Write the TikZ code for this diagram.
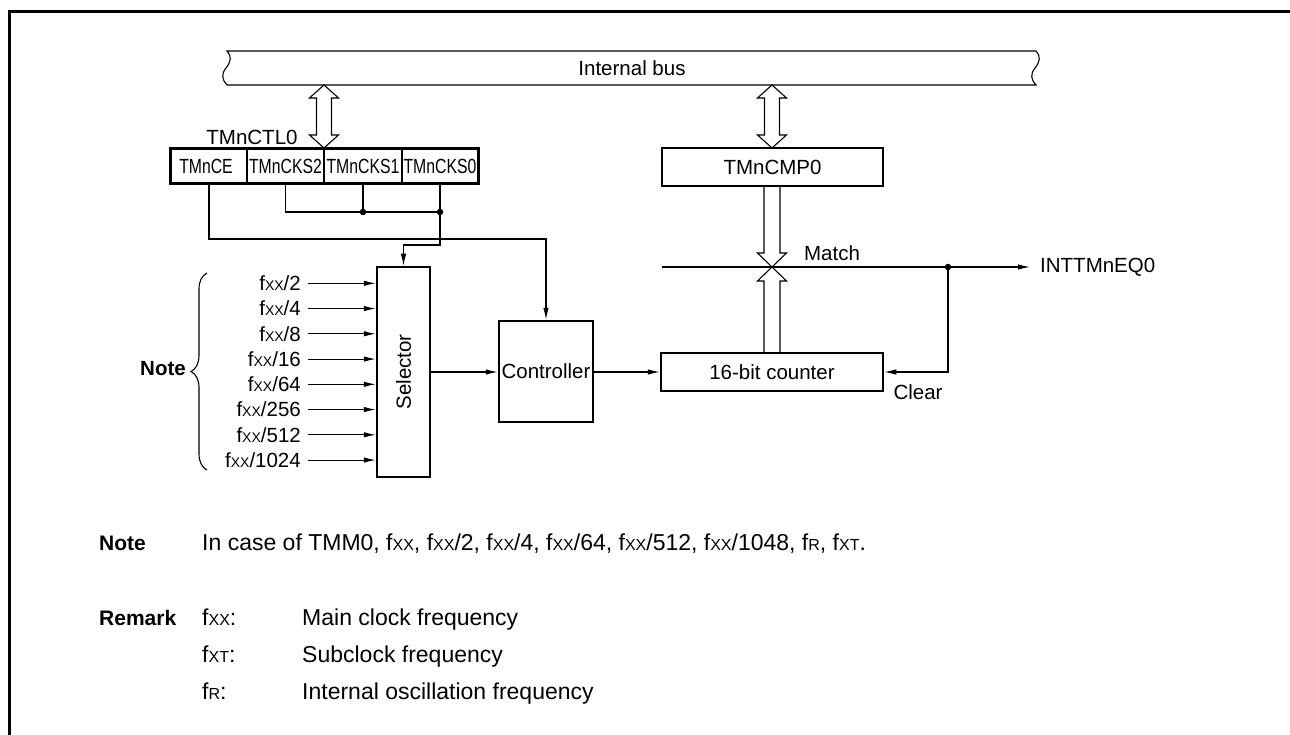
\documentclass[tikz,border=0pt]{standalone}
\usepackage{fontspec}
\setmainfont{Liberation Sans}
\usetikzlibrary{arrows.meta,decorations.pathreplacing,calc}
\newcommand\smc[1]{{\fontsize{14}{14}\selectfont #1}}
\newcommand\smb[1]{{\fontsize{16}{16}\selectfont #1}}
\newcommand\narrowtxt[1]{\scalebox{0.77}[1]{#1}}
\newcommand\dbarrow[3]{%
  \draw[hollow] (#1,#2) -- ({#1+14.5},{#2+13}) -- ({#1+7.5},{#2+13}) -- ({#1+7.5},{#3-13})
   -- ({#1+14.5},{#3-13}) -- (#1,#3) -- ({#1-14.5},{#3-13}) -- ({#1-7.5},{#3-13})
   -- ({#1-7.5},{#2+13}) -- ({#1-14.5},{#2+13}) -- cycle;}
\begin{document}
\begin{tikzpicture}[x=1pt,y=-1pt,
  every node/.style={font=\fontsize{20.5}{24}\selectfont, inner sep=0pt},
  wire/.style={line width=1.1pt},
  arr/.style={wire,-{Latex[length=12pt,width=5.5pt]}},
  blk/.style={draw,line width=2.5pt,rectangle,inner sep=0pt},
  cell/.style={draw,line width=1.1pt,rectangle,minimum height=34pt},
  dot/.style={circle,fill,inner sep=0pt,minimum size=6.5pt},
  hollow/.style={line width=1.1pt, fill=white, line join=miter},
  boldtxt/.style={font=\fontsize{20.5}{24}\selectfont\bfseries},
  notetxt/.style={anchor=base west,font=\fontsize{23}{27}\selectfont},
  notebold/.style={anchor=base west,font=\fontsize{21}{26}\selectfont\bfseries}]

\useasboundingbox (0,0) rectangle (1290,735);

% frame
\draw[line width=3pt] (1290,12) -- (9,12) -- (9,735);

% internal bus
\draw[wire] (227,51) -- (1036,51)
  .. controls (1041,56) and (1040,62) .. (1035,68)
  .. controls (1030,74) and (1031,80) .. (1036,85) -- (227,85)
  .. controls (222,80) and (221,74) .. (226,68)
  .. controls (231,62) and (232,56) .. (227,51) -- cycle;
\node (bus) at (632,68) {Internal bus};

% register TMnCTL0
\node (ctllab) at (252,137) {TMnCTL0};
\node[cell,minimum width=76pt] (ce) at (209,166) {};
\node (cetxt) at (206,166) {\narrowtxt{TMnCE}};
\node[cell,minimum width=77pt] (cks2) at (285.5,166) {\narrowtxt{TMnCKS2}};
\node[cell,minimum width=78pt] (cks1) at (363,166) {\narrowtxt{TMnCKS1}};
\node[cell,minimum width=76pt] (cks0) at (440,166) {\narrowtxt{TMnCKS0}};
\draw[line width=2.5pt] (ce.north west) rectangle (cks0.south east);

% compare register, counter, selector, controller
\node[blk,minimum width=221pt,minimum height=38pt] (cmp) at (772.5,167) {TMnCMP0};
\node[blk,minimum width=222pt,minimum height=38pt] (cnt) at (772,372) {16-bit counter};
\node[blk,minimum width=53pt,minimum height=210pt] (sel) at (403.5,372) {};
\node[rotate=90] (sellab) at (sel.center) {Selector};
\node[blk,minimum width=94pt,minimum height=101pt] (ctl) at (546,371.5) {Controller};

% bus arrows
\dbarrow{324}{85}{148}
\dbarrow{772}{85}{148}

% CE wiring to controller
\coordinate (ceturn) at (546,239);
\draw[arr] (ce.south) |- (ceturn) -- (ctl.north);

% CKS wiring to selector
\coordinate (d0) at (cks0.south |- 0,212);
\draw[wire] (cks2.south) |- (d0);
\draw[wire] (cks1.south) -- (cks1.south |- d0);
\node[dot] (dk1) at (cks1.south |- d0) {};
\node[dot] (dk0) at (d0) {};
\coordinate (ckturn) at (cks0.south |- 0,245);
\draw[arr] (cks0.south) -- (ckturn) -| (sel.north);

% clock inputs
\foreach \lab [count=\i from 0] in {2,4,8,16,64,256,512,1024} {
  \coordinate (in\i) at (308,{283.3+25.25*\i});
  \node[anchor=east] (lab\i) at (301,{283.3+25.25*\i}) {f\smc{XX}/\lab};
  \draw[arr] (in\i) -- (in\i -| sel.west);
}
\draw[wire,decorate,decoration={brace,amplitude=16pt}] (207,470) -- (207,273);
\node[anchor=east,boldtxt] (notelab) at (186,369) {Note};

% selector -> controller -> counter
\draw[arr] (sel.east |- 0,372) -- (ctl.west |- 0,372);
\draw[arr] (ctl.east |- cnt.west) -- (cnt.west);

% match line
\coordinate (mstart) at (662,267);
\node[anchor=west] (int) at (1040,267) {INTTMnEQ0};
\draw[arr,shorten >=10pt] (mstart) -- (int.west);
\node[dot] (md) at (948,267) {};
\draw[arr] (md.center) |- (cnt.east);
\node (matchlab) at (832,253) {Match};
\node (clearlab) at (918,392) {Clear};

% hollow arrows to the match point
\draw[hollow,fill=none] (764,186) -- (764,253) -- (757.5,253) -- (772,267) -- (786.5,253) -- (780,253) -- (780,186);
\draw[hollow,fill=none] (764,353) -- (764,281) -- (757.5,281) -- (772,267) -- (786.5,281) -- (780,281) -- (780,353);

% notes
\node[notebold] (n1) at (99,550) {Note};
\node[notetxt] (n1t) at (202,550) {In case of TMM0, f\smb{XX}, f\smb{XX}/2, f\smb{XX}/4, f\smb{XX}/64, f\smb{XX}/512, f\smb{XX}/1048, f\smb{R}, f\smb{XT}.};
\node[notebold] (r1) at (99,625) {Remark};
\node[notetxt] (r1a) at (202,625) {f\smb{XX}:};
\node[notetxt] (r1b) at (302,625) {Main clock frequency};
\node[notetxt] (r2a) at (202,662) {f\smb{XT}:};
\node[notetxt] (r2b) at (302,662) {Subclock frequency};
\node[notetxt] (r3a) at (202,699) {f\smb{R}:};
\node[notetxt] (r3b) at (302,699) {Internal oscillation frequency};
\end{tikzpicture}
\end{document}
